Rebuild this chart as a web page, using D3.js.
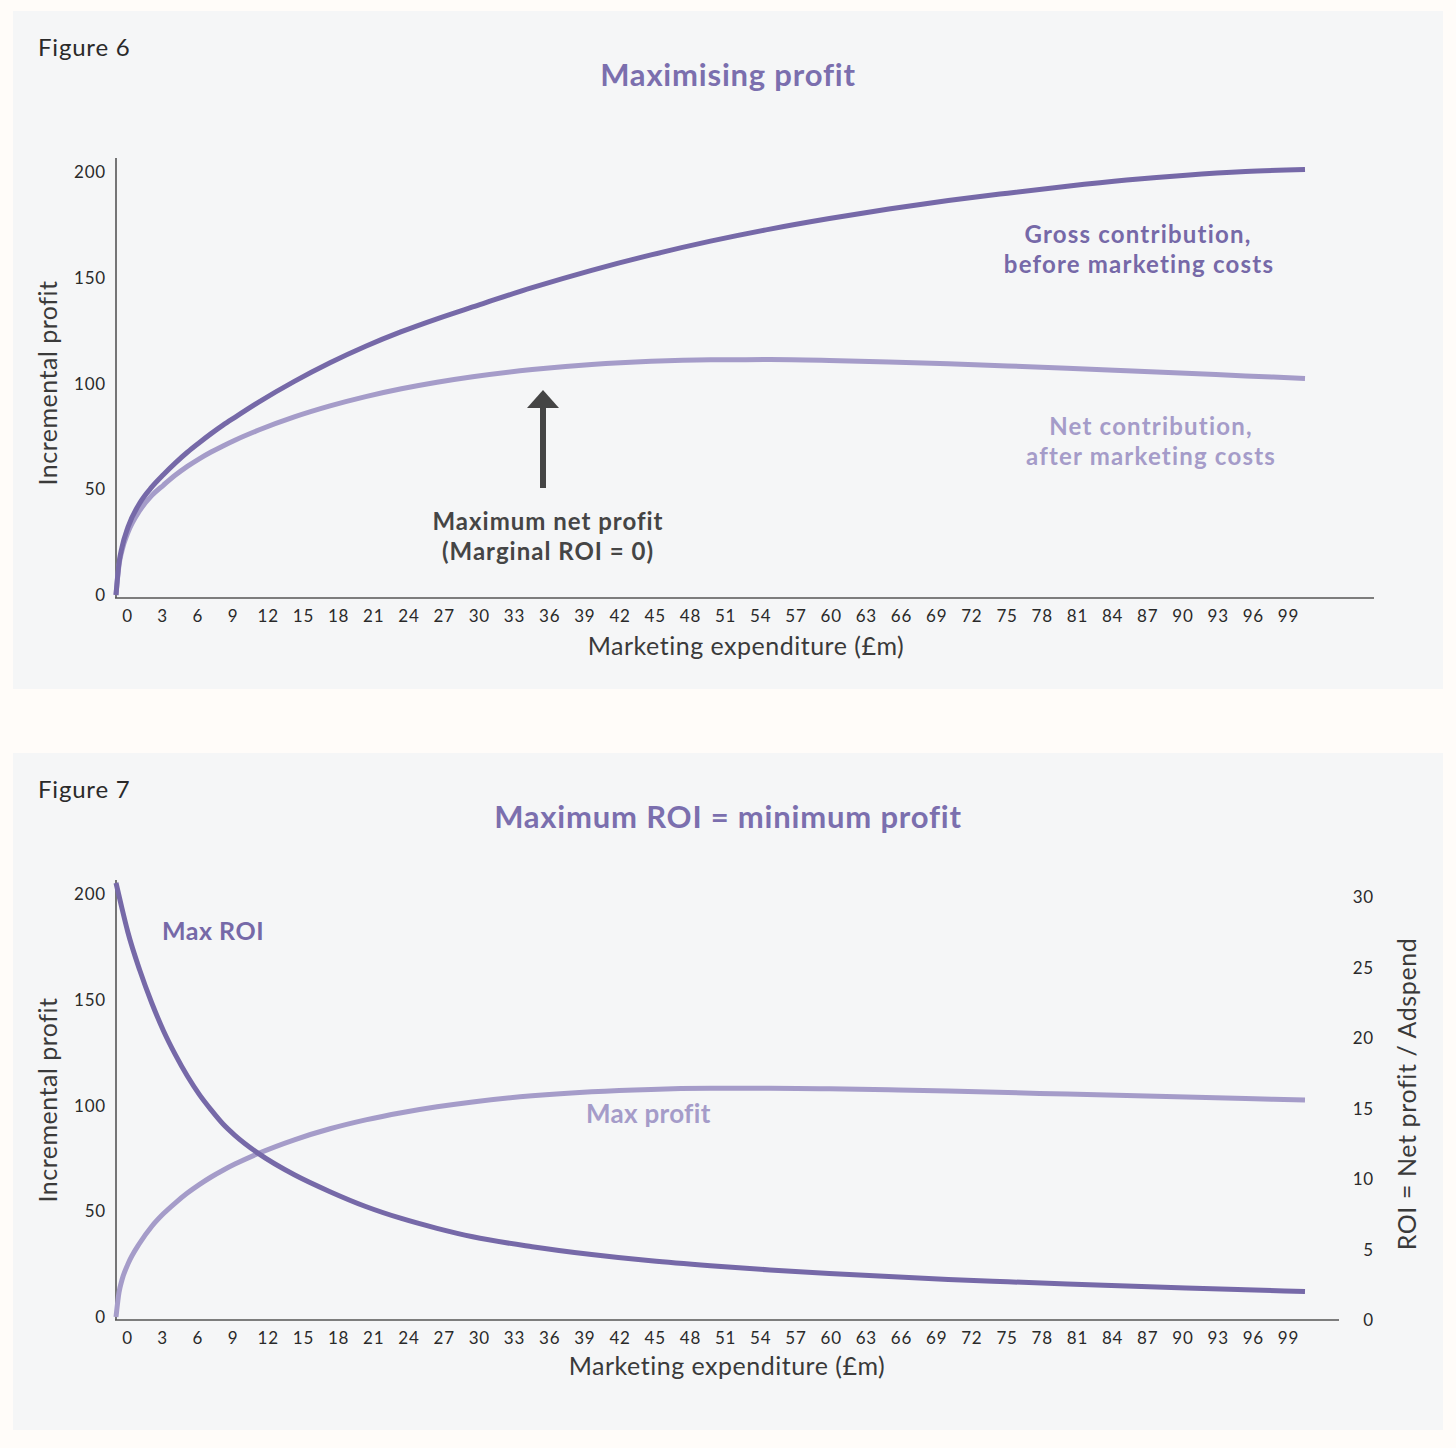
<!DOCTYPE html>
<html><head><meta charset="utf-8">
<script src="https://cdn.jsdelivr.net/npm/d3@7"></script>
<style>
html,body{margin:0;padding:0;background:#fffcf9;}
svg{display:block;font-family:Lato,"Open Sans",sans-serif;}
</style></head>
<body><svg id="c" width="1456" height="1448"></svg>
<script>
// ---------- data ----------
const spend = [0,0.25,0.5,1,2,3,4,5,6,7,8,9,10,12,15,18,21,24,27,30,35,40,45,50,55,60,65,70,75,80,85,90,95,100];
const grossContribution = [0,15,22.5,32,43.5,51,57,62.5,67.5,72,76.3,80.3,84,91.2,101,109.8,117.6,124.5,130.6,136.2,145.3,153.5,160.8,167.3,173,178,182.5,186.5,190,193.3,196.2,198.5,200.2,201.2];
const netContribution   = [0,14,21,29.5,40,47,52,56.7,60.8,64.4,67.6,70.5,73.2,78,84.2,89.4,93.8,97.5,100.6,103.2,106.6,109,110.5,111.2,111.3,110.9,110.2,109.3,108.3,107.2,106,104.8,103.6,102.4];
const netProfitFig7     = [0,11.5,17.5,25,35,42.8,48.9,54,58.6,62.6,66.2,69.4,72.3,77.4,83.8,89,93.2,96.6,99.4,101.7,104.6,106.5,107.6,108.1,108.2,107.9,107.4,106.8,106.1,105.4,104.7,104,103.3,102.6];
const roi               = [31,30.1,29.2,27.5,24.8,22.5,20.5,18.8,17.3,16,14.9,13.9,13.1,11.8,10.3,9.1,8.05,7.2,6.5,5.9,5.2,4.65,4.2,3.85,3.55,3.3,3.08,2.88,2.71,2.55,2.41,2.27,2.14,2.02];
const xTickValues = d3.range(0,100,3);
const yTickValues = [0,50,100,150,200];
const roiTickValues = [0,5,10,15,20,25,30];

const dark = "#7669a8", light = "#a59cc9", ink = "#3a3a3a", arrowInk = "#454545";
const svg = d3.select("#c");

function panel(y0, h){
  svg.append("rect").attr("x",13).attr("y",y0).attr("width",1430).attr("height",h).attr("fill","#f5f6f7");
}
panel(11,678); panel(753,677);

function text(x,y,str,opt){
  const t = svg.append("text").attr("x",x).attr("y",y).text(str)
    .attr("font-size",opt.size).attr("fill",opt.fill||ink)
    .attr("font-weight",opt.weight||400).attr("text-anchor",opt.anchor||"start")
    .attr("letter-spacing",opt.ls||0);
  if(opt.rotate) t.attr("transform",`rotate(-90,${x},${y})`);
  return t;
}

function styleTicks(g){
  g.select(".domain").remove();
  g.selectAll("text").attr("font-size",17).attr("fill","#2a2a2a").attr("font-family","Lato").attr("letter-spacing",0.8);
}

function drawChart(cfg){
  const x = d3.scaleLinear().domain([0,100]).range([116,1305]);
  const xt = d3.scaleLinear().domain([0,99]).range([127,1288]);
  const y = d3.scaleLinear().domain([0,200]).range([cfg.y0, cfg.y200]);
  svg.append("line").attr("x1",116).attr("x2",116).attr("y1",cfg.yTop).attr("y2",cfg.axisY).attr("stroke","#555").attr("stroke-width",1.6);
  svg.append("line").attr("x1",115).attr("x2",cfg.xEnd).attr("y1",cfg.axisY).attr("y2",cfg.axisY).attr("stroke","#555").attr("stroke-width",1.6);
  const gx = svg.append("g").attr("transform",`translate(0,${cfg.axisY})`)
    .call(d3.axisBottom(xt).tickValues(xTickValues).tickSize(0).tickPadding(12).tickFormat(d3.format("d")));
  styleTicks(gx);
  const gy = svg.append("g").attr("transform",`translate(106,0)`)
    .call(d3.axisLeft(y).tickValues(yTickValues).tickSize(0).tickPadding(0));
  styleTicks(gy);
  gy.selectAll("text").attr("dy","0.33em");
  return {x,y};
}

// ---------- Figure 6 ----------
text(38,56,"Figure 6",{size:24,fill:"#2a2a2a",ls:0.8});
text(728,86,"Maximising profit",{size:31,weight:700,fill:"#7b6fae",anchor:"middle",ls:0.8});
const c1 = drawChart({y0:595,y200:172,yTop:158,axisY:598,xEnd:1374});
text(746,655,"Marketing expenditure (£m)",{size:25,fill:"#3a3a3a",anchor:"middle",ls:0.5});
text(57,383,"Incremental profit",{size:25,fill:"#3a3a3a",anchor:"middle",rotate:true,ls:0.5});

const line1 = d3.line().x((d,i)=>c1.x(spend[i])).y(d=>c1.y(d)).curve(d3.curveMonotoneX);
svg.append("path").attr("d",line1(netContribution)).attr("fill","none").attr("stroke",light).attr("stroke-width",5);
svg.append("path").attr("d",line1(grossContribution)).attr("fill","none").attr("stroke",dark).attr("stroke-width",5);

text(1138,243,"Gross contribution,",{size:24,weight:700,fill:dark,anchor:"middle",ls:1.2});
text(1139,273,"before marketing costs",{size:24,weight:700,fill:dark,anchor:"middle",ls:1.2});
text(1151,435,"Net contribution,",{size:24,weight:700,fill:light,anchor:"middle",ls:1.2});
text(1151,465,"after marketing costs",{size:24,weight:700,fill:light,anchor:"middle",ls:1.2});

// arrow
svg.append("line").attr("x1",543).attr("x2",543).attr("y1",488).attr("y2",404).attr("stroke",arrowInk).attr("stroke-width",6);
svg.append("path").attr("d","M527,408 L543,390 L559,408 Z").attr("fill",arrowInk);
text(548,530,"Maximum net profit",{size:24,weight:700,fill:arrowInk,anchor:"middle",ls:1.0});
text(548,560,"(Marginal ROI = 0)",{size:24,weight:700,fill:arrowInk,anchor:"middle",ls:1.0});

// ---------- Figure 7 ----------
text(38,798,"Figure 7",{size:24,fill:"#2a2a2a",ls:0.8});
text(728,828,"Maximum ROI = minimum profit",{size:31,weight:700,fill:"#7b6fae",anchor:"middle",ls:0.8});
const c2 = drawChart({y0:1317,y200:894,yTop:880,axisY:1320,xEnd:1339});
text(727,1375,"Marketing expenditure (£m)",{size:25,fill:"#3a3a3a",anchor:"middle",ls:0.5});
text(57,1100,"Incremental profit",{size:25,fill:"#3a3a3a",anchor:"middle",rotate:true,ls:0.5});

const yR = d3.scaleLinear().domain([0,30]).range([1320,897]);
const gr = svg.append("g").attr("transform","translate(1374,0)")
  .call(d3.axisLeft(yR).tickValues(roiTickValues).tickSize(0).tickPadding(0));
styleTicks(gr);
gr.selectAll("text").attr("dy","0.33em");
text(1416,1094,"ROI = Net profit / Adspend",{size:25,fill:"#3a3a3a",anchor:"middle",rotate:true,ls:0.6});

const line2 = d3.line().x((d,i)=>c2.x(spend[i])).y(d=>c2.y(d)).curve(d3.curveMonotoneX);
const lineR = d3.line().x((d,i)=>c2.x(spend[i])).y(d=>yR(d)).curve(d3.curveMonotoneX);
svg.append("path").attr("d",line2(netProfitFig7)).attr("fill","none").attr("stroke",light).attr("stroke-width",5);
svg.append("path").attr("d",lineR(roi)).attr("fill","none").attr("stroke",dark).attr("stroke-width",5);

text(162,940,"Max ROI",{size:25,weight:700,fill:dark,ls:0.5});
text(586,1123,"Max profit",{size:26,weight:700,fill:light,ls:0.3});
</script></body></html>
